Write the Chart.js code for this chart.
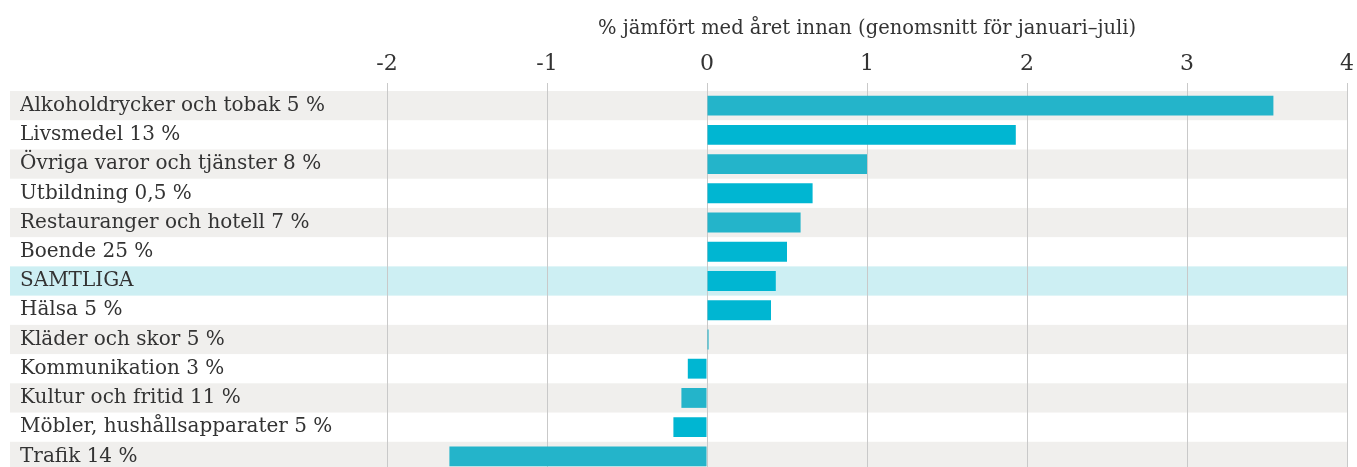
<!DOCTYPE html>
<html>
<head>
<meta charset="utf-8">
<script src="https://cdn.jsdelivr.net/npm/chart.js@4"></script>
<style>
  html, body { margin: 0; padding: 0; overflow: hidden; background: #ffffff; }
  #c { display: block; }
</style>
</head>
<body>
<canvas id="c" width="1357" height="483"></canvas>
<script>
const categories = [
  'Alkoholdrycker och tobak 5 %',
  'Livsmedel 13 %',
  'Övriga varor och tjänster 8 %',
  'Utbildning 0,5 %',
  'Restauranger och hotell 7 %',
  'Boende 25 %',
  'SAMTLIGA',
  'Hälsa 5 %',
  'Kläder och skor 5 %',
  'Kommunikation 3 %',
  'Kultur och fritid 11 %',
  'Möbler, hushållsapparater 5 %',
  'Trafik 14 %'
];
const values = [3.54, 1.93, 1.0, 0.66, 0.585, 0.50, 0.43, 0.40, 0.01, -0.12, -0.16, -0.21, -1.61];
const xTickLabels = ['-2', '-1', '0', '1', '2', '3', '4'];
const xMin = -2, xMax = 4;
const axisTitle = '% jämfört med året innan (genomsnitt för januari–juli)';
const highlight = 'SAMTLIGA';

const FONT = '"DejaVu Serif", serif';
const TEXT = '#333333';
const GRAY_ROW = '#f0efed';
const HIGHLIGHT_ROW = '#cdeff3';
const BAR_MUTED = '#24b4ca';
const BAR_BRIGHT = '#00b6d2';

const barColors = categories.map((c, i) => (i % 2 === 0 && c !== highlight) ? BAR_MUTED : BAR_BRIGHT);

const rowBands = {
  id: 'rowBands',
  beforeDraw(chart) {
    const { ctx, chartArea, scales } = chart;
    const y = scales.y;
    const n = categories.length;
    const step = (chartArea.bottom - chartArea.top) / n;
    ctx.save();
    categories.forEach((c, i) => {
      let fill = null;
      if (c === highlight) fill = HIGHLIGHT_ROW;
      else if (i % 2 === 0) fill = GRAY_ROW;
      if (!fill) return;
      const cy = y.getPixelForValue(i);
      ctx.fillStyle = fill;
      ctx.fillRect(10, cy - step / 2, chartArea.right - 10, step);
    });
    ctx.restore();
  }
};

new Chart(document.getElementById('c'), {
  type: 'bar',
  data: {
    labels: categories,
    datasets: [{
      data: values,
      backgroundColor: barColors,
      borderWidth: 0,
      barPercentage: 0.68,
      categoryPercentage: 1.0
    }]
  },
  plugins: [rowBands],
  options: {
    indexAxis: 'y',
    responsive: false,
    animation: false,
    layout: { padding: { left: 20, right: 10, top: 0, bottom: 0 } },
    plugins: {
      legend: { display: false },
      tooltip: { enabled: false },
      title: { display: false }
    },
    scales: {
      x: {
        position: 'top',
        min: xMin,
        max: xMax,
        ticks: {
          stepSize: 1,
          padding: 6,
          color: TEXT,
          font: { family: FONT, size: 22 },
          callback: (v) => xTickLabels[Math.round(v - xMin)]
        },
        grid: {
          color: '#c9c9c9',
          lineWidth: 1,
          drawTicks: true,
          tickLength: 8,
          tickColor: '#c9c9c9'
        },
        border: { display: false },
        title: {
          display: true,
          text: axisTitle,
          color: TEXT,
          font: { family: FONT, size: 19.5 },
          padding: { top: 17, bottom: 0 }
        },
        afterFit(scale) {
          scale.height = 91;
          scale.paddingRight = 0;
          scale.paddingLeft = 0;
        }
      },
      y: {
        ticks: {
          crossAlign: 'far',
          color: TEXT,
          font: { family: FONT, size: 20 },
          padding: 0
        },
        grid: { display: false },
        border: { display: false },
        afterFit(scale) { scale.width = 367; }
      }
    }
  }
});
</script>
</body>
</html>
